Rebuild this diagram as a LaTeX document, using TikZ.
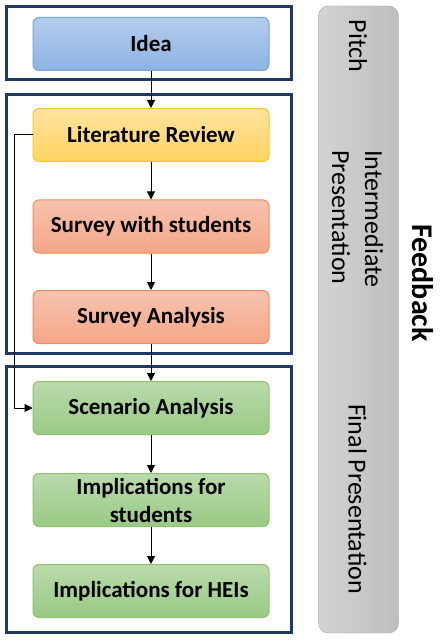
\documentclass[tikz,border=0pt]{standalone}
\usepackage{fontspec}
\setmainfont{Carlito}
\usetikzlibrary{arrows.meta}
\definecolor{framenavy}{HTML}{203864}
\definecolor{ideatop}{HTML}{B3CCEC}
\definecolor{ideabot}{HTML}{8DB3E2}
\definecolor{idealine}{HTML}{76A5DE}
\definecolor{littop}{HTML}{FFE3A0}
\definecolor{litbot}{HTML}{FFD462}
\definecolor{litline}{HTML}{FFC629}
\definecolor{survtop}{HTML}{F7C3AE}
\definecolor{survbot}{HTML}{F4A688}
\definecolor{survline}{HTML}{F08C58}
\definecolor{scentop}{HTML}{BADAAC}
\definecolor{scenbot}{HTML}{99CA84}
\definecolor{scenline}{HTML}{8EC26F}
\definecolor{barleft}{HTML}{D3D3D3}
\definecolor{barright}{HTML}{BEBEBE}
\definecolor{barline}{HTML}{A6A6A6}

\begin{document}
\begin{tikzpicture}[x=1pt,y=-1pt]
	\tikzstyle{every node}+=[inner sep=0pt]
	\tikzstyle{stage}=[rectangle, rounded corners=6pt, minimum width=236pt, minimum height=53pt, align=center, line width=1pt, font=\fontsize{23}{28}\selectfont\bfseries]
	\tikzstyle{frame}=[draw=framenavy, line width=3pt]
	\tikzstyle{flow}=[-{Triangle[length=8pt,width=8pt]}, line width=1pt]
	\tikzstyle{talk}=[rotate=-90, font=\fontsize{26}{33}\selectfont]
	\useasboundingbox (0,0) rectangle (443,644);
	% grey feedback bar
	\draw [barline, left color=barleft, right color=barright, rounded corners=10pt] (318.5,6) rectangle (398.5,633);
	\node [talk] (pitch) at (358,46) {Pitch};
	\node [talk, align=left] (interm) at (357.5,219) {Intermediate\\Presentation};
	\node [talk] (final) at (357.5,499) {Final Presentation};
	\node [talk, font=\fontsize{30}{36}\selectfont\bfseries] (feedback) at (422.5,283) {Feedback};
	% phase frames
	\draw [frame] (6.5,6.5) rectangle (291.5,80);
	\draw [frame] (6.5,94.5) rectangle (291.5,353);
	\draw [frame] (6.5,366) rectangle (291.5,632);
	% stages
	\node [stage, draw=idealine, top color=ideatop, bottom color=ideabot] (idea) at (151,44) {Idea};
	\node [stage, draw=litline, top color=littop, bottom color=litbot] (litrev) at (151,135) {Literature Review};
	\node [stage, draw=survline, top color=survtop, bottom color=survbot] (survey) at (151,226.5) {Survey with students};
	\node [stage, draw=survline, top color=survtop, bottom color=survbot] (analysis) at (151,317) {Survey Analysis};
	\node [stage, draw=scenline, top color=scentop, bottom color=scenbot] (scenario) at (151,408) {Scenario Analysis};
	\node [stage, draw=scenline, top color=scentop, bottom color=scenbot] (implstud) at (151,500) {Implications for\\students};
	\node [stage, draw=scenline, top color=scentop, bottom color=scenbot] (implhei) at (151,591) {Implications for HEIs};
	% arrows
	\draw [flow] (idea) -- (litrev);
	\draw [flow] (litrev) -- (survey);
	\draw [flow] (survey) -- (analysis);
	\draw [flow] (analysis) -- (scenario);
	\draw [flow] (scenario) -- (implstud);
	\draw [flow] (implstud) -- (implhei);
	\draw [flow] (litrev.west) -- ++(-18,0) |- (scenario.west);
\end{tikzpicture}
\end{document}
